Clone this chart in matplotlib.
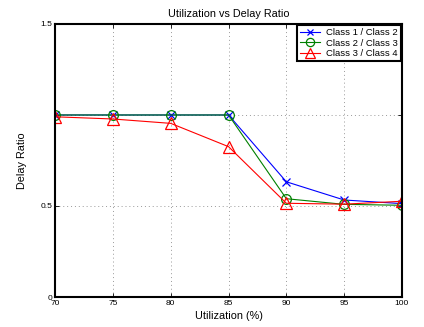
import matplotlib
matplotlib.use("Agg")
import matplotlib.pyplot as plt

utilization = [70, 75, 80, 85, 90, 95, 100]
class12 = [1.0, 1.0, 1.0, 1.0, 0.633, 0.533, 0.513]
class23 = [1.0, 1.0, 1.0, 1.0, 0.54, 0.509, 0.504]
class34 = [0.99, 0.978, 0.954, 0.826, 0.515, 0.51, 0.526]
yticks = [0, 0.5, 1, 1.5]
ytick_labels = ["0", "0.5", "", "1.5"]
xticks = [70, 75, 80, 85, 90, 95, 100]

plt.rcParams['font.family'] = ['Liberation Sans', 'DejaVu Sans']
fig = plt.figure(figsize=(4.24, 3.27), dpi=100)
ax = fig.add_axes([0.13, 0.0917, 0.818, 0.835])

ax.plot(utilization, class12, color='blue', marker='x', markersize=5.5, linewidth=0.8,
        markerfacecolor='none', markeredgewidth=0.9, label='Class 1 / Class 2')
ax.plot(utilization, class23, color='green', marker='o', markersize=7, linewidth=0.8,
        markerfacecolor='none', markeredgewidth=0.9, label='Class 2 / Class 3')
ax.plot(utilization, class34, color='red', marker='^', markersize=8, linewidth=0.8,
        markerfacecolor='none', markeredgewidth=0.9, label='Class 3 / Class 4')

ax.set_xlim(70, 100)
ax.set_ylim(0, 1.5)
ax.set_xticks(xticks)
ax.set_xticklabels([str(v) for v in xticks])
ax.set_yticks(yticks)
ax.set_yticklabels(ytick_labels)
ax.tick_params(direction='in', top=True, right=True, labelsize=6, length=3, width=0.6, pad=2)
ax.grid(True, linestyle=(0, (1, 3)), color='#999999', linewidth=0.7)
for s in ax.spines.values():
    s.set_linewidth(1.5)
    s.set_color('black')

ax.set_title('Utilization vs Delay Ratio', fontsize=7.8, pad=5)
ax.set_xlabel('Utilization (%)', fontsize=7.8, labelpad=3)
ax.set_ylabel('Delay Ratio', fontsize=7.8, labelpad=10)

leg = ax.legend(loc='upper right', fontsize=6.8, fancybox=False, framealpha=1,
                borderaxespad=0.15, handlelength=2.2, borderpad=0.3, labelspacing=0.15,
                handletextpad=0.6, markerscale=0.85)
leg.get_frame().set_edgecolor('black')
leg.get_frame().set_linewidth(1.5)

fig.savefig('out.png', dpi=100)
